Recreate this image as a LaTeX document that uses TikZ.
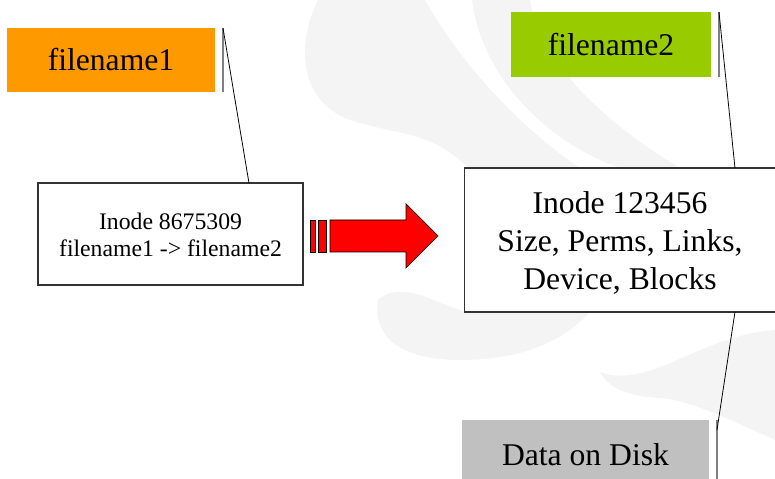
\documentclass[tikz,border=0pt]{standalone}
\usepackage{fontspec}
\setmainfont{Liberation Serif}
\usetikzlibrary{positioning}

\definecolor{tagorange}{HTML}{FF9900}
\definecolor{taggreen}{HTML}{99CC00}
\definecolor{taggray}{HTML}{C0C0C0}
\definecolor{ghostgray}{HTML}{F4F4F4}

\begin{document}
\begin{tikzpicture}[
    x=0.02cm, y=-0.02cm,
    tag/.style={rectangle, inner sep=0pt, outer sep=0pt, font=\fontsize{18}{21.5}\selectfont},
    inode/.style={rectangle, draw=black!80, line width=0.6pt, fill=white, inner sep=0pt, outer sep=0pt},
    edgebar/.style={draw=black!50, line width=1.1pt},
    link/.style={draw=black, line width=0.45pt},
    ghost/.style={fill=ghostgray},
    bigarrow/.style={fill=red, draw=black, line width=0.4pt}
]
\useasboundingbox (0,0) rectangle (775,479);

\fill[ghost] (318,0) .. controls (296,45) and (300,98) .. (345,118)
    .. controls (392,136) and (432,128) .. (472,172)
    .. controls (505,208) and (545,222) .. (590,215)
    -- (600,180) .. controls (545,150) and (470,80) .. (425,0) -- cycle;
\fill[ghost] (472,0) .. controls (480,70) and (540,140) .. (620,168)
    -- (680,168) .. controls (600,120) and (540,60) .. (530,0) -- cycle;
\fill[ghost] (378,300) .. controls (372,340) and (405,360) .. (460,360)
    .. controls (515,360) and (560,345) .. (590,312)
    -- (465,312) .. controls (430,300) and (400,280) .. (378,300) -- cycle;
\fill[ghost] (600,372) .. controls (650,390) and (700,335) .. (775,330)
    -- (775,440) .. controls (730,420) and (690,400) .. (660,398)
    .. controls (630,396) and (610,390) .. (600,372) -- cycle;

\node[tag, fill=tagorange, minimum width=4.16cm, minimum height=1.28cm] (fnone) at (111,60) {filename1};
\node[tag, fill=taggreen, minimum width=4cm, minimum height=1.3cm] (fntwo) at (611,44.5) {filename2};
\node[tag, fill=taggray, minimum width=4.94cm, minimum height=1.4cm] (data) at (585.5,455) {Data on Disk};
\node[inode, minimum width=5.3cm, minimum height=2.04cm, font=\fontsize{13.5}{15.3}\selectfont] (oldinode) at (170.5,234)
    {\raisebox{0pt}[\dimexpr\height+0.16cm\relax]{\begin{tabular}{@{}c@{}}Inode 8675309\\filename1 -> filename2\end{tabular}}};
\node[inode, minimum width=6.24cm, minimum height=2.88cm, font=\fontsize{18}{21.5}\selectfont] (newinode) at (620,240)
    {\raisebox{0pt}[\dimexpr\height+0.16cm\relax]{\begin{tabular}{@{}c@{}}Inode 123456\\Size, Perms, Links,\\Device, Blocks\end{tabular}}};

\draw[edgebar] ([xshift=0.16cm]fnone.north east) -- ([xshift=0.16cm]fnone.south east);
\draw[edgebar] ([xshift=0.16cm]fntwo.north east) -- ([xshift=0.16cm]fntwo.south east);
\draw[edgebar] ([xshift=0.16cm]data.north east) -- ([xshift=0.16cm]data.south east);

\draw[link] ([xshift=0.16cm]fnone.north east) -- ([xshift=4.22cm]oldinode.north west);
\draw[link] ([xshift=0.16cm]fntwo.north east) -- ([xshift=5.42cm]newinode.north west);
\draw[link] ([xshift=5.42cm]newinode.south west) -- ([xshift=0.16cm,yshift=-0.2cm]data.north east);

\filldraw[bigarrow] (310.5,220) rectangle (315.5,252);
\filldraw[bigarrow] (318.5,220) rectangle (326.5,252);
\filldraw[bigarrow] (330,220) -- (406,220) -- (406,204) -- (438,236) -- (406,268) -- (406,252) -- (330,252) -- cycle;
\end{tikzpicture}
\end{document}
